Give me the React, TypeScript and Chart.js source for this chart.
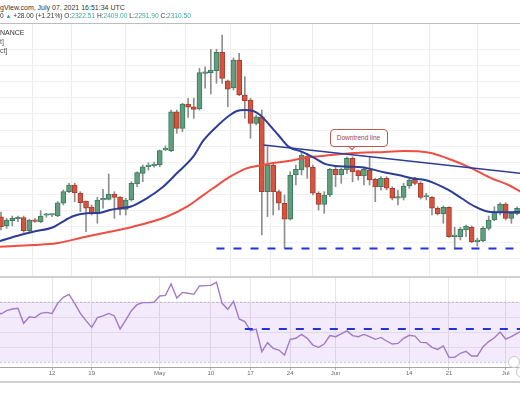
import { useEffect, useRef } from "react";
import { Chart, registerables } from "chart.js";

Chart.register(...registerables);

// ---------- text ----------
const headerLine1 = "gView.com, July 07, 2021 16:51:34 UTC";
const headerLead = "0";
const changeText = "+28.00 (+1.21%)";
const ohlcLabels = ["O:", "H:", "L:", "C:"];
const ohlcValues = ["2322.51", "2409.00", "2291.90", "2310.50"];
const legendLines = ["NANCE", "t]", "ct]"];
const calloutText = "Downtrend line";

// ---------- time axis (day 0 = Apr 1, 2021) ----------
const tickDays = [11, 18, 30, 39, 46, 53, 61, 74, 81, 91];
const tickLabels = ["12", "19", "May", "10", "17", "24", "Jun", "14", "21", "Jul"];
const X_MIN = 1.83;
const X_MAX = 93.52;

// ---------- daily candles, first candle = Apr 3 ----------
const firstCandleDay = 2;
const opens = [
  2124, 2009, 2075, 2099, 2112, 1950, 2083, 2062, 2142, 2145, 2133, 2291, 2435, 2518, 2415, 2319,
  2245, 2158, 2332, 2340, 2406, 2369, 2216, 2332, 2530, 2663, 2745, 2758, 2766, 2953, 2944, 3428,
  3222, 3524, 3490, 3462, 3905, 3913, 3938, 4166, 3813, 3723, 4070, 3636, 3574, 3284, 3366, 2435,
  2766, 2435, 2291, 2092, 2642, 2704, 2878, 2738, 2415, 2278, 2394, 2713, 2642, 2704, 2850, 2696,
  2630, 2704, 2589, 2497, 2601, 2477, 2353, 2365, 2505, 2589, 2539, 2369, 2365, 2229, 2158, 2241,
  1876, 1876, 1959, 1993, 1814, 1822, 1980, 2083, 2186, 2282, 2104, 2158,
];
const highs = [
  2183, 2104, 2133, 2133, 2133, 2092, 2102, 2199, 2166, 2158, 2311, 2456, 2539, 2539, 2435, 2319,
  2270, 2365, 2464, 2655, 2435, 2373, 2353, 2559, 2683, 2766, 2795, 2804, 2953, 3002, 3449, 3449,
  3533, 3595, 3595, 3967, 3987, 4203, 4203, 4381, 3822, 4095, 4154, 3863, 3595, 3387, 3449, 2994,
  2787, 2456, 2394, 2683, 2766, 2932, 2912, 2766, 2435, 2435, 2725, 2745, 2725, 2869, 2869, 2704,
  2745, 2869, 2601, 2621, 2621, 2497, 2456, 2539, 2601, 2614, 2559, 2415, 2373, 2248, 2257, 2248,
  1993, 1993, 2021, 2009, 1856, 2000, 2133, 2248, 2298, 2298, 2186, 2248,
];
const lows = [
  1959, 1980, 2009, 2062, 1930, 1938, 2052, 2050, 2117, 2124, 2124, 2270, 2422, 2311, 2186, 1938,
  2145, 2042, 2229, 2332, 2104, 2145, 2145, 2319, 2497, 2559, 2704, 2738, 2745, 2944, 2932, 3160,
  3180, 3358, 3346, 3449, 3719, 3648, 3781, 3781, 3490, 3698, 3627, 3346, 3098, 3263, 1897, 2124,
  2145, 2207, 1732, 2083, 2518, 2642, 2601, 2394, 2207, 2166, 2373, 2497, 2539, 2663, 2559, 2580,
  2518, 2518, 2311, 2456, 2456, 2332, 2270, 2332, 2477, 2518, 2344, 2332, 2145, 2145, 2042, 1868,
  1719, 1835, 1876, 1801, 1760, 1814, 1959, 2075, 2145, 2083, 2042, 2145,
];
const closes = [
  2000, 2083, 2104, 2104, 1950, 2083, 2067, 2133, 2149, 2149, 2298, 2435, 2518, 2422, 2298, 2229,
  2158, 2332, 2353, 2406, 2365, 2214, 2332, 2539, 2671, 2745, 2766, 2779, 2944, 2974, 3428, 3222,
  3524, 3483, 3458, 3913, 3925, 3946, 4166, 3843, 3707, 4070, 3636, 3565, 3284, 3366, 2435, 2766,
  2435, 2291, 2092, 2642, 2713, 2891, 2738, 2415, 2278, 2394, 2713, 2642, 2713, 2850, 2683, 2630,
  2713, 2580, 2497, 2601, 2477, 2353, 2373, 2505, 2580, 2539, 2365, 2373, 2229, 2158, 2241, 1876,
  1888, 1968, 2009, 1814, 1835, 1980, 2083, 2186, 2282, 2104, 2166, 2229,
];

// ---------- overlays ----------
const emaDays = [
  1.8, 5.4, 7.7, 11.2, 12.4, 14.8, 17.1, 19.5, 21.2, 23.0, 24.8, 27.7, 30.6, 33.0, 35.9, 37.7, 40.0,
  42.4, 43.6, 45.0, 46.5, 47.7, 49.1, 50.9, 52.7, 55.0, 57.4, 59.1, 60.9, 63.3, 65.6, 67.4, 69.7,
  72.1, 74.4, 76.8, 78.5, 80.9, 83.2, 85.6, 87.4, 89.1, 91.5, 93.6,
];
const emaValues = [
  1822, 1896, 1938, 1993, 2042, 2133, 2166, 2174, 2207, 2229, 2248, 2353, 2497, 2663, 2869, 3071,
  3242, 3387, 3437, 3449, 3437, 3387, 3284, 3139, 2994, 2932, 2850, 2780, 2754, 2745, 2738, 2713,
  2673, 2642, 2601, 2580, 2539, 2456, 2353, 2248, 2195, 2179, 2179, 2186,
];
const smaDays = [
  1.8, 7.7, 11.8, 16.5, 21.2, 25.3, 31.2, 34.8, 36.5, 39.4, 42.4, 45.3, 47.7, 49.7, 52.7, 55.6, 58.6,
  61.5, 65.3, 69.7, 73.0, 75.9, 78.0, 81.5, 85.0, 88.5, 91.5, 93.6,
];
const smaValues = [
  1752, 1773, 1794, 1868, 1938, 2000, 2124, 2248, 2332, 2477, 2621, 2725, 2760, 2787, 2816, 2857,
  2878, 2899, 2919, 2928, 2940, 2934, 2912, 2828, 2725, 2601, 2518, 2437,
];
const trendDays = [48.3, 93.6];
const trendValues = [3015, 2663];
const supportDays = [40, 93.6];
const supportValue = 1729;

// ---------- RSI ----------
const rsiFirstDay = 1;
const rsiValues = [
  65.5, 62.2, 64.4, 65.5, 66.0, 56.0, 60.4, 59.8, 62.6, 63.3, 62.6, 69.3, 73.3, 75.3, 69.3, 62.6,
  57.8, 53.3, 59.8, 60.9, 62.6, 60.9, 52.2, 58.2, 64.4, 68.4, 69.8, 69.8, 70.0, 74.2, 74.6, 82.2,
  72.9, 76.6, 76.0, 75.3, 80.9, 81.1, 81.3, 83.3, 69.3, 65.3, 70.6, 58.9, 57.1, 51.1, 52.2, 37.1,
  43.1, 39.3, 38.2, 34.9, 45.3, 46.0, 48.6, 46.0, 41.5, 40.0, 42.2, 47.8, 47.1, 48.9, 50.9, 47.8,
  47.1, 48.6, 47.1, 45.3, 46.6, 44.2, 42.2, 42.6, 46.0, 48.0, 47.5, 43.3, 43.1, 40.0, 38.6, 40.9,
  33.3, 33.3, 36.0, 37.3, 34.2, 34.2, 40.4, 43.8, 46.4, 50.2, 45.5, 47.1, 49.3, 50.9,
];
const rsiBands = [70, 30];
const rsiLevelDays = [45, 93.6];
const rsiLevel = 52.2;

// ---------- scale ranges ----------
const Y_MIN = 1387.7;
const Y_MAX = 4517.5;
const RSI_MIN = 26.87;
const RSI_MAX = 86.2;

const GREEN = "#5f9f80";
const GREEN_EDGE = "#3c7a5c";
const RED = "#d5543f";
const RED_EDGE = "#a83c2d";
const NAVY = "#2d3d96";
const SMA_RED = "#ef4e43";
const DASH_BLUE = "#2233dd";

export default function App() {
  const mainRef = useRef<HTMLCanvasElement>(null);
  const rsiRef = useRef<HTMLCanvasElement>(null);

  useEffect(() => {
    const days = opens.map((_, i) => firstCandleDay + i);
    const up = opens.map((o, i) => closes[i] >= o);
    const pts = (xs: number[], ys: number[]) => xs.map((x, i) => ({ x, y: ys[i] }));

    const xTicks = (s: any) => {
      s.ticks = tickDays.map((v) => ({ value: v }));
    };

    const main = new Chart(mainRef.current as HTMLCanvasElement, {
      type: "bar",
      data: {
        datasets: [
          {
            type: "bar",
            data: days.map((d, i) => ({ x: d, y: [lows[i], highs[i]] })) as any,
            backgroundColor: "#8e8e8e",
            barThickness: 1,
            grouped: false,
            order: 6,
          } as any,
          {
            type: "bar",
            data: days.map((d, i) => ({ x: d, y: [opens[i], closes[i]] })) as any,
            backgroundColor: up.map((u) => (u ? GREEN : RED)),
            borderColor: up.map((u) => (u ? GREEN_EDGE : RED_EDGE)),
            borderWidth: 1,
            borderSkipped: false,
            barThickness: 5,
            minBarLength: 1.5,
            grouped: false,
            order: 5,
          } as any,
          {
            type: "line",
            data: pts(smaDays, smaValues),
            borderColor: SMA_RED,
            borderWidth: 2,
            pointRadius: 0,
            cubicInterpolationMode: "monotone",
            order: 4,
          } as any,
          {
            type: "line",
            data: pts(emaDays, emaValues),
            borderColor: NAVY,
            borderWidth: 2,
            pointRadius: 0,
            cubicInterpolationMode: "monotone",
            order: 3,
          } as any,
          {
            type: "line",
            data: pts(trendDays, trendValues),
            borderColor: NAVY,
            borderWidth: 1.6,
            pointRadius: 0,
            order: 2,
          } as any,
          {
            type: "line",
            data: supportDays.map((x) => ({ x, y: supportValue })),
            borderColor: DASH_BLUE,
            borderWidth: 2,
            borderDash: [8, 9],
            pointRadius: 0,
            order: 1,
          } as any,
        ],
      },
      options: {
        animation: false,
        responsive: true,
        maintainAspectRatio: false,
        events: [],
        layout: { padding: 0, autoPadding: false },
        plugins: { legend: { display: false }, tooltip: { enabled: false } },
        scales: {
          x: {
            type: "linear",
            min: X_MIN,
            max: X_MAX,
            offset: false,
            afterBuildTicks: xTicks,
            afterFit: (s: any) => {
              s.height = 0;
            },
            ticks: { display: false },
            grid: { color: "#ececec", drawTicks: false },
            border: { display: false },
          },
          y: {
            type: "linear",
            min: Y_MIN,
            max: Y_MAX,
            ticks: { display: false, stepSize: 200 },
            afterBuildTicks: (s: any) => {
              s.ticks = s.ticks.filter((t: any) => Math.abs(t.value % 200) < 0.01);
            },
            afterFit: (s: any) => {
              s.width = 0;
            },
            grid: { color: "#f1f1f1", drawTicks: false },
            border: { display: false },
          },
        } as any,
      },
    });

    const rsiDays = rsiValues.map((_, i) => rsiFirstDay + i);
    const rsi = new Chart(rsiRef.current as HTMLCanvasElement, {
      type: "line",
      data: {
        datasets: [
          {
            data: [X_MIN, X_MAX].map((x) => ({ x, y: rsiBands[0] })),
            borderColor: "rgba(170,140,205,0.55)",
            borderWidth: 1,
            borderDash: [2, 2],
            pointRadius: 0,
            fill: { value: rsiBands[1] },
            backgroundColor: "rgba(150,60,220,0.11)",
            order: 4,
          } as any,
          {
            data: [X_MIN, X_MAX].map((x) => ({ x, y: rsiBands[1] })),
            borderColor: "rgba(170,140,205,0.55)",
            borderWidth: 1,
            borderDash: [2, 2],
            pointRadius: 0,
            order: 3,
          } as any,
          {
            data: pts(rsiDays, rsiValues),
            borderColor: "#a07bc9",
            borderWidth: 1.4,
            pointRadius: 0,
            order: 2,
          } as any,
          {
            data: rsiLevelDays.map((x) => ({ x, y: rsiLevel })),
            borderColor: DASH_BLUE,
            borderWidth: 2,
            borderDash: [8, 9],
            pointRadius: 0,
            order: 1,
          } as any,
        ],
      },
      options: {
        animation: false,
        responsive: true,
        maintainAspectRatio: false,
        events: [],
        layout: { padding: 0, autoPadding: false },
        plugins: { legend: { display: false }, tooltip: { enabled: false } },
        scales: {
          x: {
            type: "linear",
            min: X_MIN,
            max: X_MAX,
            offset: false,
            afterBuildTicks: xTicks,
            afterFit: (s: any) => {
              s.height = 14;
            },
            ticks: {
              autoSkip: false,
              maxRotation: 0,
              padding: 0,
              color: "#6a6a6a",
              font: { size: 6, family: '"Liberation Sans", Arial, sans-serif' },
              callback: (v: any) => {
                const k = tickDays.indexOf(Number(v));
                return k >= 0 ? tickLabels[k] : "";
              },
            },
            grid: { color: "#e6e6e6", drawTicks: true, tickLength: 3, tickColor: "#b5b5b5" },
            border: { display: true, color: "#a5a5a5", width: 1 },
          },
          y: {
            type: "linear",
            min: RSI_MIN,
            max: RSI_MAX,
            ticks: { display: false, stepSize: 10 },
            afterBuildTicks: (s: any) => {
              s.ticks = s.ticks.filter((t: any) => Math.abs(t.value % 10) < 0.01);
            },
            afterFit: (s: any) => {
              s.width = 0;
            },
            grid: { color: "#ebebeb", drawTicks: false },
            border: { display: false },
          },
        } as any,
      },
    });

    return () => {
      main.destroy();
      rsi.destroy();
    };
  }, []);

  const font = '"Liberation Sans", Arial, sans-serif';
  const teal = "#3aa99b";

  return (
    <div
      style={{
        position: "fixed",
        left: 0,
        top: 0,
        width: 520,
        height: 400,
        background: "#ffffff",
        overflow: "hidden",
        fontFamily: font,
      }}
    >
      <div style={{ position: "absolute", left: 0, top: 24, width: 520, height: 252 }}>
        <canvas ref={mainRef} />
      </div>
      <div style={{ position: "absolute", left: 0, top: 278, width: 520, height: 103 }}>
        <canvas ref={rsiRef} />
      </div>

      <div
        style={{
          position: "absolute",
          left: 0,
          top: 2.5,
          fontSize: 7,
          lineHeight: "9px",
          color: "#333",
          whiteSpace: "nowrap",
        }}
      >
        {headerLine1}
      </div>
      <div
        style={{
          position: "absolute",
          left: 0,
          top: 11,
          fontSize: 6.6,
          lineHeight: "9px",
          color: "#333",
          whiteSpace: "nowrap",
        }}
      >
        {headerLead} <span style={{ color: "#26a69a", fontSize: 6 }}>▲</span> {changeText}{" "}
        {ohlcLabels.map((l, i) => (
          <span key={l}>
            {l}
            <span style={{ color: teal }}>{ohlcValues[i]}</span>{" "}
          </span>
        ))}
      </div>
      <div style={{ position: "absolute", left: 0, top: 22.5, width: 520, height: 1.5, background: "#bdbdbd" }} />

      {legendLines.map((t, i) => (
        <div
          key={t}
          style={{
            position: "absolute",
            left: 0,
            top: 27.5 + i * 9,
            fontSize: 7,
            lineHeight: "9px",
            color: i === 0 ? "#333" : "#555",
            whiteSpace: "nowrap",
          }}
        >
          {t}
        </div>
      ))}

      <div
        style={{
          position: "absolute",
          left: 349,
          top: 143,
          width: 5,
          height: 5,
          background: "#fff",
          borderRight: "1px solid #b95a50",
          borderBottom: "1px solid #b95a50",
          transform: "rotate(45deg)",
        }}
      />
      <div
        style={{
          position: "absolute",
          left: 329.5,
          top: 128.5,
          width: 56,
          height: 16,
          border: "1px solid #b95a50",
          borderRadius: 4,
          background: "#fff",
          color: "#a4433a",
          fontSize: 6.5,
          lineHeight: "16px",
          textAlign: "center",
          whiteSpace: "nowrap",
        }}
      >
        {calloutText}
      </div>

      <div style={{ position: "absolute", left: 0, top: 276, width: 520, height: 2, background: "#d0d0d0" }} />
      <div style={{ position: "absolute", left: 0, top: 380.5, width: 520, height: 2, background: "#d0d0d0" }} />

      <div
        style={{
          position: "absolute",
          left: 508,
          top: 356,
          width: 10,
          height: 10,
          borderRadius: "50%",
          border: "1px solid #c8c8c8",
          background: "#fff",
        }}
      />
      <div
        style={{
          position: "absolute",
          left: 516,
          top: 366,
          width: 10,
          height: 10,
          borderRadius: "50%",
          border: "1px solid #c8c8c8",
          background: "#fff",
        }}
      />
    </div>
  );
}
